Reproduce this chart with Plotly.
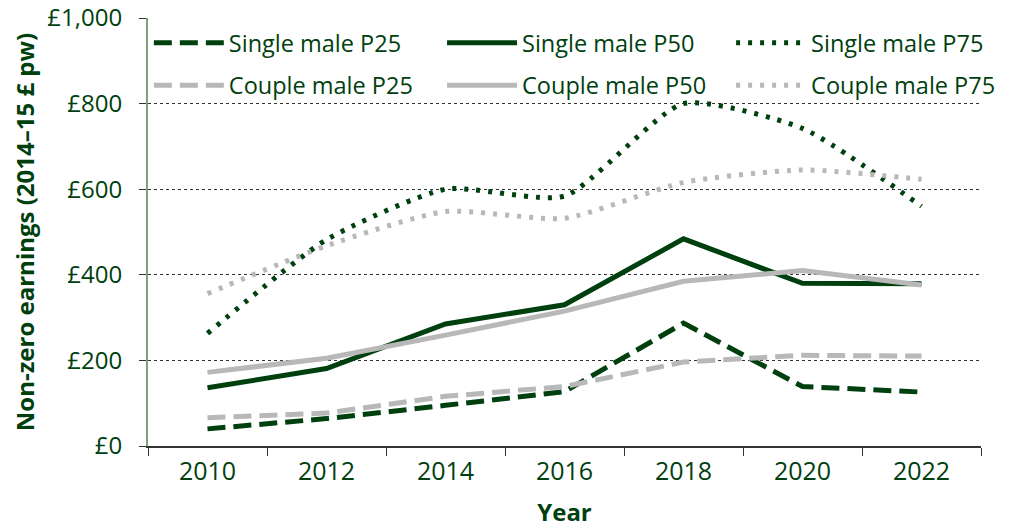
import plotly.graph_objects as go

years = ["2010", "2012", "2014", "2016", "2018", "2020", "2022"]
single_p25 = [40, 64, 95, 127, 287, 139, 126]
single_p50 = [136, 181, 285, 330, 484, 380, 379]
single_p75 = [263, 482, 600, 584, 800, 742, 560]
couple_p25 = [66, 77, 116, 139, 196, 212, 210]
couple_p50 = [172, 205, 259, 315, 385, 410, 376]
couple_p75 = [356, 468, 548, 532, 616, 645, 623]

GREEN = "#00400f"
GREY = "#b8b8b8"
TEXT = "#00400f"
FONT = "Open Sans"

series = [
    ("Single male P25", single_p25, GREEN, "18px,8px", "linear", "legend"),
    ("Couple male P25", couple_p25, GREY, "18px,8px", "linear", "legend"),
    ("Single male P50", single_p50, GREEN, "solid", "linear", "legend2"),
    ("Couple male P50", couple_p50, GREY, "solid", "linear", "legend2"),
    ("Single male P75", single_p75, GREEN, "4px,8px", "spline", "legend3"),
    ("Couple male P75", couple_p75, GREY, "4px,8px", "spline", "legend3"),
]

fig = go.Figure()
for i in range(6):
    name, vals, color, dash, shape, leg = series[i]
    fig.add_trace(go.Scatter(
        x=years, y=vals, name=name, mode="lines", legend=leg, legendgroup=name,
        legendrank=i,
        line=dict(color=color, width=5, dash=dash, shape=shape, smoothing=0.6),
    ))

def legend_at(x):
    return dict(
        orientation="v", x=x, y=0.993, xanchor="left", yanchor="top",
        font=dict(size=23.5, color=TEXT, family=FONT), bgcolor="rgba(0,0,0,0)",
        tracegroupgap=9, itemwidth=70, traceorder="grouped",
    )

fig.update_layout(
    width=1001, height=520,
    margin=dict(l=140, r=28, t=10, b=82, autoexpand=False),
    plot_bgcolor="white", paper_bgcolor="white",
    font=dict(family=FONT, size=25, color=TEXT),
    legend=legend_at(0.001),
    legend2=legend_at(0.353),
    legend3=legend_at(0.700),
    xaxis=dict(
        type="category", range=[-0.5, 6.5], tickson="boundaries",
        ticks="outside", ticklen=8, automargin=False,
        tickcolor="#333333", showline=True, linecolor="#333333", linewidth=1.5,
        showgrid=False, tickfont=dict(size=25, color=TEXT, family=FONT),
        ticklabelstandoff=2,
        title=dict(text="<b>Year</b>", font=dict(size=24, color=TEXT, family=FONT), standoff=28),
    ),
    yaxis=dict(
        range=[0, 1000], tickvals=[0, 200, 400, 600, 800, 1000],
        ticktext=["£0", "£200", "£400", "£600", "£800", "£1,000"],
        ticks="outside", ticklen=7, tickcolor="#333333", automargin=False,
        showline=True, linecolor="#7f9f7f", linewidth=2,
        showgrid=True, gridcolor="#333333", gridwidth=1, griddash="dot",
        zeroline=False, tickfont=dict(size=24, color=TEXT, family=FONT),
        ticklabelstandoff=12, ticklabeloverflow="allow",
        title=dict(text="<b>Non-zero earnings (2014–15 £ pw)</b>",
                   font=dict(size=24, color=TEXT, family=FONT), standoff=8),
    ),
)

fig.write_html("out.html")
